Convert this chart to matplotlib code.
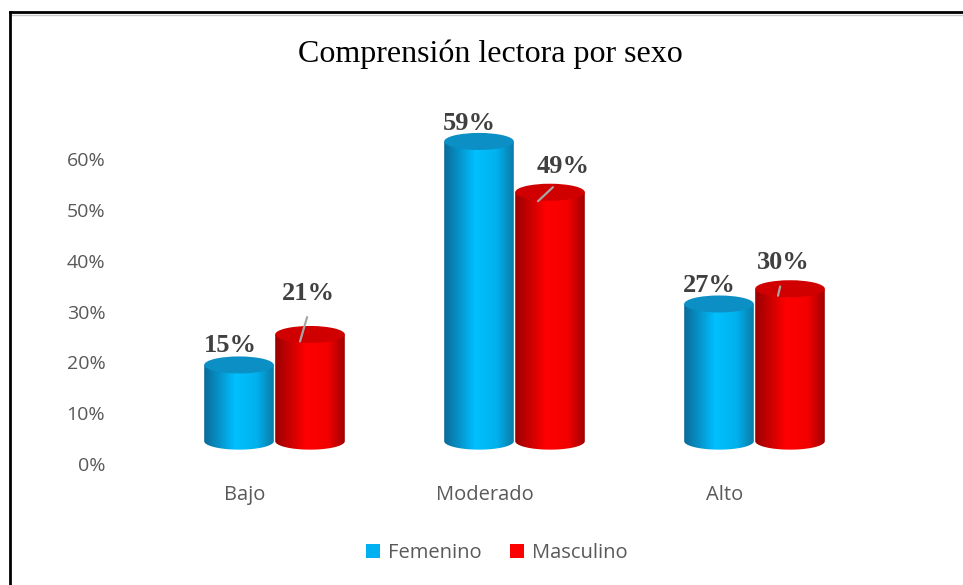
import matplotlib.pyplot as plt
import numpy as np
from matplotlib.patches import Ellipse, Polygon, Patch
from matplotlib.colors import LinearSegmentedColormap
from matplotlib.lines import Line2D

categories = ['Bajo', 'Moderado', 'Alto']
femenino = [15, 59, 27]
masculino = [21, 49, 30]
series_names = ['Femenino', 'Masculino']
yticks = [0, 10, 20, 30, 40, 50, 60]

W, H = 963, 585
fig = plt.figure(figsize=(W / 100, H / 100), dpi=100)
ax = fig.add_axes([115 / W, 121 / H, 765 / W, 344 / H])
xlim = (-130 / 240, 635 / 240)
ylim = (0, 344 / 5.08)
px_x = 765 / (xlim[1] - xlim[0])
px_y = 344 / (ylim[1] - ylim[0])

base = 4.5       # floor of the 3D cylinders
width = 0.29
eh = 17 / px_y   # ellipse height in data units

blue_cmap = LinearSegmentedColormap.from_list(
    'b', [(0, '#0a6a98'), (0.45, '#00c0ff'), (0.75, '#00b2ee'), (1, '#0a7aa8')])
red_cmap = LinearSegmentedColormap.from_list(
    'r', [(0, '#9a0000'), (0.45, '#ff0000'), (0.75, '#f40000'), (1, '#a00000')])


def cylinder(xc, value, cmap, top_color, z):
    x0, x1 = xc - width / 2, xc + width / 2
    top = base + value
    t = np.linspace(np.pi, 2 * np.pi, 80)
    bottom = np.column_stack([xc + width / 2 * np.cos(t), base + eh / 2 * np.sin(t)])
    pts = np.vstack([bottom, [[x1, top], [x0, top]]])
    poly = Polygon(pts, closed=True, facecolor='none', edgecolor='none', zorder=z)
    ax.add_patch(poly)
    grad = np.linspace(0, 1, 256).reshape(1, -1)
    im = ax.imshow(grad, cmap=cmap, extent=(x0, x1, base - eh / 2, top),
                   aspect='auto', interpolation='bicubic', zorder=z)
    im.set_clip_path(poly)
    ax.add_patch(Ellipse((xc, top), width, eh, facecolor=top_color,
                         edgecolor='none', zorder=z + 0.1))
    return top


# label offsets (pixels) relative to top of each cylinder
fem_off = [(-9, 19), (-10, 18), (-10, 18)]
mas_off = [(-2, 41), (13, 26), (-7, 26)]
mas_lead = [(-10, -7), (-12, -9), (-12, -7)]
lead_rel = [(0.55, 0), (0.5, 0), (0.5, 0)]

lbl = dict(ha='center', va='center', fontsize=19, fontweight='bold',
           family='Liberation Serif', color='#404040', textcoords='offset pixels')

for i in range(len(categories)):
    xb = i - 6 / 240
    xr = i + 65 / 240
    tb = cylinder(xb, femenino[i], blue_cmap, '#0c8fc4', 2)
    tr = cylinder(xr, masculino[i], red_cmap, '#d00000', 3)
    ax.annotate(f'{femenino[i]}%', xy=(xb, tb), xytext=fem_off[i], zorder=6, **lbl)
    lx, ly = mas_lead[i]
    ox, oy = mas_off[i]
    ax.annotate(f'{masculino[i]}%', xy=(xr + lx / px_x, tr + ly / px_y),
                xytext=(ox - lx, oy - ly), zorder=6,
                arrowprops=dict(arrowstyle='-', color='#a6a6a6', lw=1.6,
                                relpos=lead_rel[i], shrinkA=7, shrinkB=0), **lbl)

ax.set_xlim(*xlim)
ax.set_ylim(*ylim)
ax.set_xticks(range(len(categories)))
ax.set_xticklabels(categories)
ax.set_yticks(yticks)
ax.set_yticklabels([f'{v}%' for v in yticks])
ax.tick_params(axis='x', length=0, pad=15, labelsize=14.5, labelcolor='#595959')
ax.tick_params(axis='y', length=0, pad=7, labelsize=14, labelcolor='#595959')
for lab in ax.get_xticklabels() + ax.get_yticklabels():
    lab.set_family('Open Sans')
for s in ax.spines.values():
    s.set_visible(False)

fig.text(490 / W, 1 - 54 / H, 'Comprensión lectora por sexo', ha='center', va='center',
         family='Liberation Serif', fontsize=23, color='black')

handles = [Patch(facecolor='#00b0f0'), Patch(facecolor='#ff0000')]
fig.legend(handles, series_names, loc='center', bbox_to_anchor=(497 / W, 1 - 553 / H),
           ncol=2, frameon=False, handlelength=0.7, handleheight=0.7,
           handletextpad=0.4, columnspacing=1.4,
           prop={'family': 'Open Sans', 'size': 14.5}, labelcolor='#595959')

# outer frame (top and left edges visible)
fig.add_artist(Line2D([10 / W, 1], [1 - 12 / H] * 2, color='black', lw=2))
fig.add_artist(Line2D([10 / W, 1], [1 - 14.5 / H] * 2, color='#c8c8c8', lw=1))
fig.add_artist(Line2D([10 / W] * 2, [0, 1 - 12 / H], color='black', lw=2))

fig.savefig('out.png', dpi=100)
